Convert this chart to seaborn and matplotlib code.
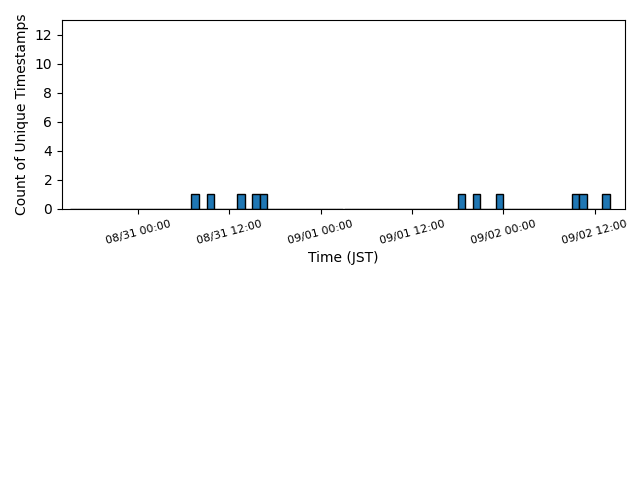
import pandas as pd
import numpy as np
import matplotlib
matplotlib.use('Agg')
import matplotlib.pyplot as plt
import matplotlib.dates as mdates
import seaborn as sns

# Horodatages uniques (JST)
timestamps = [
    '2024-08-31 07:26', '2024-08-31 09:27', '2024-08-31 13:29',
    '2024-08-31 15:27', '2024-08-31 16:25', '2024-09-01 18:30',
    '2024-09-01 20:22', '2024-09-01 23:30', '2024-09-02 09:30',
    '2024-09-02 10:24', '2024-09-02 13:24',
]
bin_start = '2024-08-30 15:00'
bin_end = '2024-09-02 14:00'
x_min = '2024-08-30 14:00'
x_max = '2024-09-02 16:00'

ts = pd.to_datetime(pd.Series(timestamps))
x_num = mdates.date2num(ts.dt.to_pydatetime())
edges = mdates.date2num(pd.date_range(bin_start, bin_end, freq='1h').to_pydatetime())

fig = plt.figure(figsize=(6.4, 4.8), dpi=100)
ax = fig.add_axes([62 / 640, 1 - 209 / 480, (625 - 62) / 640, (209 - 20) / 480])

sns.histplot(x=x_num, bins=edges, color='#1f77b4', edgecolor='black',
             alpha=1, linewidth=1, ax=ax)

ax.xaxis_date()
ax.xaxis.set_major_locator(mdates.HourLocator(byhour=[0, 12]))
ax.xaxis.set_major_formatter(mdates.DateFormatter('%m/%d %H:%M'))
ax.set_xlim(mdates.date2num(pd.Timestamp(x_min)), mdates.date2num(pd.Timestamp(x_max)))
ax.set_ylim(0, 13)
ax.set_yticks(range(0, 13, 2))
plt.setp(ax.get_xticklabels(), rotation=15, fontsize=8)

ax.set_xlabel('Time (JST)')
ax.set_ylabel('Count of Unique Timestamps')

fig.savefig('out.png', dpi=100)
